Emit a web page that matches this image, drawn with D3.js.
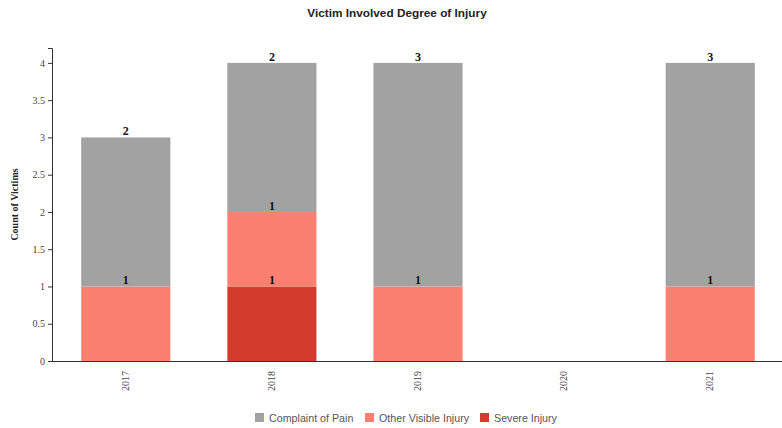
<!DOCTYPE html>
<html>
<head>
<meta charset="utf-8">
<script src="https://cdn.jsdelivr.net/npm/d3@7"></script>
<style>
  body { margin: 0; background: #fff; }
  svg { display: block; }
</style>
</head>
<body>
<svg id="chart" width="782" height="428"></svg>
<script>
const years = ["2017", "2018", "2019", "2020", "2021"];
const seriesNames = ["Severe Injury", "Other Visible Injury", "Complaint of Pain"];
const severeInjury = [0, 1, 0, 0, 0];
const otherVisibleInjury = [1, 1, 1, 0, 1];
const complaintOfPain = [2, 2, 3, 0, 3];
const seriesColors = ["#d33b2c", "#fb8072", "#a2a2a2"];
const yTicks = [0, 0.5, 1, 1.5, 2, 2.5, 3, 3.5, 4];
const legendOrder = ["Complaint of Pain", "Other Visible Injury", "Severe Injury"];

const svg = d3.select("#chart");
const margin = { left: 52, right: 0, top: 48, bottom: 67 };
const W = 782, H = 428;

const rows = years.map((y, i) => ({
  year: y,
  "Severe Injury": severeInjury[i],
  "Other Visible Injury": otherVisibleInjury[i],
  "Complaint of Pain": complaintOfPain[i]
}));
const stack = d3.stack().keys(seriesNames)(rows);
const maxTotal = d3.max(rows, r => seriesNames.reduce((s, k) => s + r[k], 0));

const x = d3.scaleBand().domain(years).range([margin.left, 784]).paddingInner(0.39).paddingOuter(0.2);
const y = d3.scaleLinear().domain([0, maxTotal * 1.05]).range([H - margin.bottom, margin.top]);
const color = d3.scaleOrdinal().domain(seriesNames).range(seriesColors);

// Title
svg.append("text").attr("x", 397).attr("y", 17).attr("text-anchor", "middle")
  .attr("font-family", "Liberation Sans, Arial, sans-serif").attr("font-size", 11.8).attr("font-weight", "bold")
  .attr("fill", "#222").text("Victim Involved Degree of Injury");

// Bars
const layers = svg.append("g").selectAll("g").data(stack).join("g").attr("fill", d => color(d.key));
layers.selectAll("rect").data(d => d.filter(p => p[1] - p[0] > 0)).join("rect")
  .attr("x", d => x(d.data.year)).attr("width", x.bandwidth())
  .attr("y", d => y(d[1])).attr("height", d => y(d[0]) - y(d[1]));

// Value labels at top of each segment
const lbl = svg.append("g").attr("font-family", "Liberation Serif, Times New Roman, serif")
  .attr("font-size", 12).attr("font-weight", "bold").attr("fill", "#111").attr("text-anchor", "middle");
stack.forEach(layer => {
  layer.forEach(p => {
    const v = p[1] - p[0];
    if (v > 0) {
      lbl.append("text").attr("x", x(p.data.year) + x.bandwidth() / 2).attr("y", y(p[1]) - 2).text(v);
    }
  });
});

// Y axis
const yAxis = svg.append("g").attr("transform", `translate(${margin.left},0)`)
  .call(d3.axisLeft(y).tickValues(yTicks).tickFormat(d3.format("")).tickSize(4).tickSizeOuter(4));
yAxis.selectAll("text").attr("font-family", "Liberation Serif, Times New Roman, serif").attr("font-size", 10).attr("fill", "#444");
yAxis.selectAll("path, line").attr("stroke", "#333");

// X axis
const xAxis = svg.append("g").attr("transform", `translate(0,${H - margin.bottom})`)
  .call(d3.axisBottom(x).tickSize(0).tickSizeOuter(0));
xAxis.select("path").attr("stroke", "#333").attr("stroke-width", 1.2);
xAxis.selectAll("text").attr("font-family", "Liberation Serif, Times New Roman, serif").attr("font-size", 10).attr("fill", "#444")
  .attr("transform", "rotate(-90)").attr("text-anchor", "end").attr("dy", "0.32em").attr("x", -10).attr("y", 0);

// Y axis title
svg.append("text").attr("transform", `translate(18,${(y(0) + y(maxTotal * 1.05)) / 2}) rotate(-90)`)
  .attr("text-anchor", "middle").attr("font-family", "Liberation Serif, Times New Roman, serif")
  .attr("font-size", 10).attr("font-weight", "bold").attr("fill", "#222").text("Count of Victims");

// Legend
const legendX = [255, 365, 480];
const leg = svg.append("g").attr("font-family", "Liberation Sans, Arial, sans-serif").attr("font-size", 10.7).attr("fill", "#555");
legendOrder.forEach((name, i) => {
  leg.append("rect").attr("x", legendX[i]).attr("y", 413).attr("width", 9).attr("height", 9).attr("fill", color(name));
  leg.append("text").attr("x", legendX[i] + 14).attr("y", 421.5).text(name);
});
</script>
</body>
</html>
